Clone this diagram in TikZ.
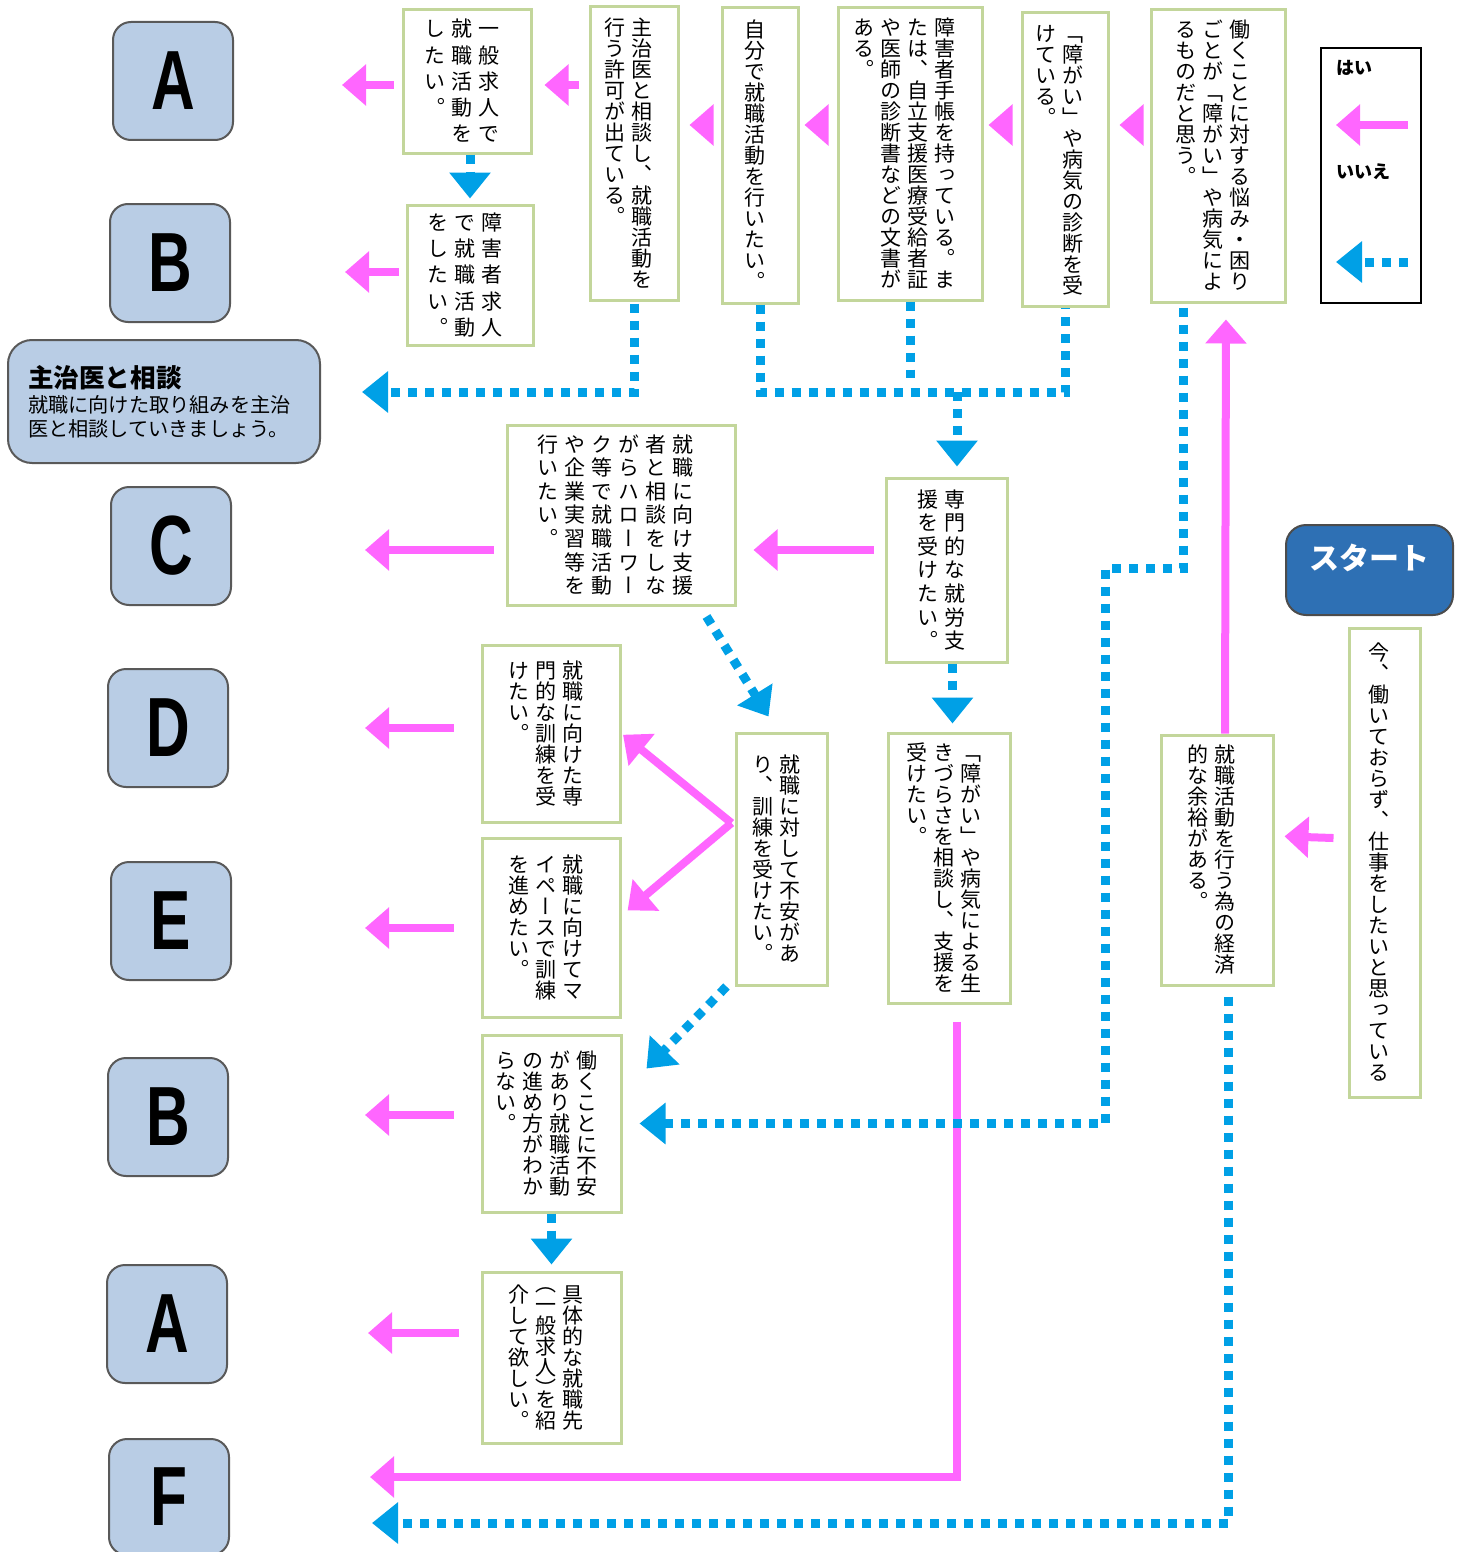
\documentclass[tikz,border=0pt]{standalone}
\usepackage{fontspec}
\usetikzlibrary{arrows.meta}
\setmainfont{Noto Sans CJK JP}
\newfontfamily\vjp[RawFeature={vertical}]{Noto Sans CJK JP}
\newfontfamily\vjph[RawFeature={vertical;+vhal}]{Noto Sans CJK JP}
\newfontfamily\vjpm[RawFeature={vertical},LetterSpace=12]{Noto Sans CJK JP}
\newfontfamily\vjpw[RawFeature={vertical},LetterSpace=25]{Noto Sans CJK JP}
\newfontfamily\lat{Liberation Sans}

\definecolor{yespink}{RGB}{255,102,255}
\definecolor{noblue}{RGB}{0,160,230}
\definecolor{boxgreen}{RGB}{195,214,155}
\definecolor{letterblue}{RGB}{185,205,229}
\definecolor{startblue}{RGB}{46,112,180}

% vertical text: lines become columns, right to left
\newcommand\tate[2][\vjp]{\rotatebox{-90}{#1\fontsize{10.5}{13.5}\selectfont\begin{tabular}{@{}l@{}}#2\end{tabular}}}
\newcommand\ltr[1]{\scalebox{0.72}[1]{#1}}

\tikzset{
  tbox/.style={draw=boxgreen, line width=1.5pt, fill=white, inner sep=0pt},
  letter/.style={draw=black!65, line width=1pt, fill=letterblue, rounded corners=9pt,
    minimum width=60pt, minimum height=59pt, inner sep=0pt,
    font=\lat\bfseries\fontsize{42}{42}\selectfont},
  yes/.style={draw=yespink, line width=4pt, -{Triangle[length=12pt,width=20pt]}},
  noline/.style={draw=noblue, line width=4.5pt, dash pattern=on 4.5pt off 4pt},
  no/.style={noline, -{Triangle[length=13pt,width=20pt]}},
}

\begin{document}
\begin{tikzpicture}[x=0.5pt, y=-0.5pt]
\useasboundingbox (0,0) rectangle (1463,1552);

% answers
\node[letter] (A1) at (173,81) {\ltr{A}};
\node[letter] (B1) at (170,263) {\ltr{B}};
\node[letter] (C) at (171,546) {\ltr{C}};
\node[letter] (D) at (168,728) {\ltr{D}};
\node[letter] (E) at (171,921) {\ltr{E}};
\node[letter] (B2) at (168,1117) {\ltr{B}};
\node[letter] (A2) at (167,1324) {\ltr{A}};
\node[letter, minimum height=58pt] (F) at (169,1497) {\ltr{F}};
\node[draw=black!65, line width=1pt, fill=letterblue, rounded corners=12pt,
  minimum width=156pt, minimum height=61.5pt, inner sep=0pt, align=left, text width=136pt]
  (consult) at (164,401.5)
  {{\bfseries\fontsize{12.8}{16}\selectfont 主治医と相談}\\
   \fontsize{10.1}{12.5}\selectfont 就職に向けた取り組みを主治\\医と相談していきましょう。};

% questions
\node[tbox, minimum width=64pt, minimum height=71.5pt] (ippan) at (467,81.5)
  {\tate[\vjpw]{一般求人で\\就職活動を\\したい。}};
\node[tbox, minimum width=63pt, minimum height=70pt] (shogai) at (470,275)
  {\tate[\vjpw]{障害者求人\\で就職活動\\をしたい。}};
\node[tbox, minimum width=44pt, minimum height=146.5pt] (kyoka) at (634,153.5)
  {\tate{主治医と相談し、就職活動を\\行う許可が出ている。}};
\node[tbox, minimum width=38pt, minimum height=147.5pt] (jibun) at (760,155.5)
  {\tate{自分で就職活動を行いたい。}};
\node[tbox, minimum width=72pt, minimum height=146pt] (techo) at (910,154)
  {\tate{障害者手帳を持っている。ま\\たは、自立支援医療受給者証\\や医師の診断書などの文書が\\ある。}};
\node[tbox, minimum width=43pt, minimum height=146.5pt] (shindan) at (1065,159.5)
  {\tate{「障がい」や病気の診断を受\\けている。}};
\node[tbox, minimum width=67pt, minimum height=146pt] (nayami) at (1218,156)
  {\tate{働くことに対する悩み・困り\\ごとが「障がい」や病気によ\\るものだと思う。}};
\node[tbox, minimum width=114pt, minimum height=90pt] (shienka) at (621,515)
  {\tate[\vjpm]{就職に向け支援\\者と相談をしな\\がらハローワー\\ク等で就職活動\\や企業実習等を\\行いたい。}};
\node[tbox, minimum width=60.5pt, minimum height=92pt] (senmon) at (946.5,570)
  {\tate[\vjpm]{専門的な就労支\\援を受けたい。}};
\node[tbox, minimum width=69pt, minimum height=88.5pt] (kunren) at (551,733.5)
  {\tate{就職に向けた専\\門的な訓練を受\\けたい。}};
\node[tbox, minimum width=69pt, minimum height=89.5pt] (mypace) at (551,927.5)
  {\tate{就職に向けてマ\\イペースで訓練\\を進めたい。}};
\node[tbox, minimum width=45.5pt, minimum height=126pt] (fuan) at (781.5,859)
  {\tate{就職に対して不安があ\\り、訓練を受けたい。}};
\node[tbox, minimum width=61pt, minimum height=135pt] (ikizura) at (949,868)
  {\tate{「障がい」や病気による生\\きづらさを相談し、支援を\\受けたい。}};
\node[tbox, minimum width=56pt, minimum height=125pt] (keizai) at (1217,860)
  {\tate{就職活動を行う為の経済\\的な余裕がある。}};
\node[tbox, minimum width=35.5pt, minimum height=234.5pt] (ima) at (1384.5,862.5)
  {\tate{今、働いておらず、仕事をしたいと思っている}};
\node[tbox, minimum width=69.5pt, minimum height=88.5pt] (hataraku) at (551.5,1123.5)
  {\tate{働くことに不安\\があり就職活動\\の進め方がわか\\らない。}};
\node[tbox, minimum width=69.5pt, minimum height=85.5pt] (gutai) at (551.5,1357.5)
  {\tate{具体的な就職先\\\vjph （一般求人）を紹\\介して欲しい。}};
\node[draw=black!70, line width=1pt, fill=startblue, rounded corners=10pt,
  minimum width=83.5pt, minimum height=45pt, text=white,
  font=\bfseries\fontsize{15}{15}\selectfont] (start) at (1369.5,570) {\raisebox{13pt}{スタート}};

% legend
\node[draw=black, line width=1pt, minimum width=50pt, minimum height=127.5pt] (legend) at (1371,175.5) {};
\node[font=\bfseries\fontsize{9}{9}\selectfont, anchor=west, inner sep=0pt] (hai) at (1336,68) {はい};
\node[font=\bfseries\fontsize{9}{9}\selectfont, anchor=west, inner sep=0pt] (iie) at (1336,172) {いいえ};
\coordinate (legyes) at (1408,125);
\coordinate (legno) at (1408,262);
\draw[yes] (legyes) -- (legyes -| hai.west);
\draw[no] (legno) -- (legno -| hai.west);

% arrow ends
\coordinate (rowa) at (0,85);
\coordinate (rowb) at (0,125);
\coordinate (toA1) at (342,85);
\coordinate (toB1) at (345,272);
\coordinate (toC) at (365,550);
\coordinate (toD) at (365,728);
\coordinate (toE) at (365,928);
\coordinate (toB2) at (365,1115);
\coordinate (toA2) at (368,1333);
\coordinate (toF) at (370,1477);
\coordinate (toFno) at (372,1523);
\coordinate (toConsult) at (362,392);
\coordinate (merge) at (957,392);
\coordinate (bend) at (1105,568);

% yes
\draw[yes, shorten <=4pt] (ippan.west |- toA1) -- (toA1);
\draw[yes, shorten <=5pt, shorten >=6pt] (kyoka.west |- rowa) -- (ippan.east |- rowa);
\draw[yes, shorten <=4pt, shorten >=5pt] (jibun.west |- rowb) -- (kyoka.east |- rowb);
\draw[yes, shorten <=5pt, shorten >=2.5pt] (techo.west |- rowb) -- (jibun.east |- rowb);
\draw[yes, shorten <=5pt, shorten >=2.5pt] (shindan.west |- rowb) -- (techo.east |- rowb);
\draw[yes, shorten <=4pt, shorten >=5pt] (nayami.west |- rowb) -- (shindan.east |- rowb);
\draw[yes, shorten <=3.5pt] (shogai.west |- toB1) -- (toB1);
\draw[yes, shorten <=6pt] (shienka.west |- toC) -- (toC);
\draw[yes, shorten <=5.5pt, shorten >=8.5pt] (senmon.west |- toC) -- (shienka.east |- toC);
\draw[yes, shorten <=13.5pt] (kunren.west |- toD) -- (toD);
\draw[yes, shorten <=13.5pt] (mypace.west |- toE) -- (toE);
\draw[yes, shorten <=13.5pt] (hataraku.west |- toB2) -- (toB2);
\draw[yes, shorten <=11pt] (gutai.west |- toA2) -- (toA2);
\draw[yes, shorten <=8.5pt] ([xshift=4pt]ikizura.south) |- (toF);
\draw[yes, shorten >=8pt] ([xshift=4pt]keizai.north) -- ([xshift=4pt]nayami.south);
\draw[yes, shorten <=7pt, shorten >=5pt] ([yshift=12pt]ima.west) -- ([yshift=12pt]keizai.east);
\draw[yes, shorten >=1pt] ([xshift=-1.5pt,yshift=18pt]fuan.west) -- (kunren.east);
\draw[yes, shorten >=4pt] ([xshift=-1.5pt,yshift=18pt]fuan.west) -- ([yshift=6pt]mypace.east);

% no
\draw[no, shorten >=2.5pt] (ippan.south -| shogai.north) -- (shogai.north);
\draw[no, shorten <=1pt] (kyoka.south) |- (toConsult);
\draw[noline] (jibun.south) |- (merge) -| (shindan.south);
\draw[noline, shorten >=7pt] (techo.south) -- (techo.south |- merge);
\draw[no, shorten >=5pt] (merge) -- (merge |- senmon.north);
\draw[no, shorten >=4pt] ([xshift=3pt]senmon.south) -- ([xshift=3pt]senmon.south |- ikizura.north);
\draw[no] ([xshift=-15pt,yshift=-5pt]shienka.south east) -- ([xshift=17pt,yshift=7.5pt]fuan.north west);
\draw[no] ([xshift=-4pt]fuan.south west) -- ([xshift=12pt,yshift=-17.5pt]hataraku.north east);
\draw[no, shorten <=2pt, shorten >=8.5pt] ([xshift=-17.5pt]nayami.south) |- (bend) |- (hataraku.east);
\draw[no, shorten >=3pt] (hataraku.south) -- (gutai.north);
\draw[no, shorten <=5pt] ([xshift=5.5pt]keizai.south) |- (toFno);

\end{tikzpicture}
\end{document}
